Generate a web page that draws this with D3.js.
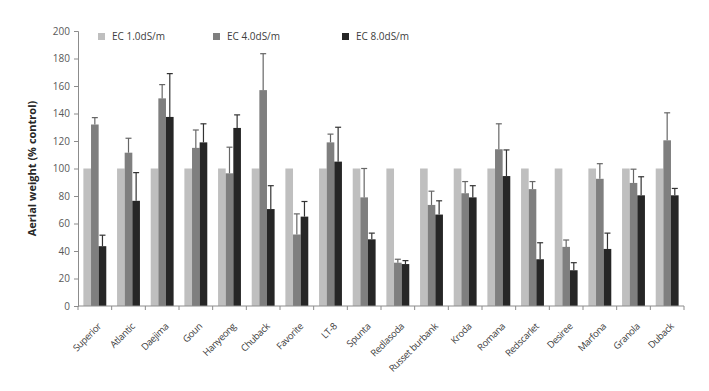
<!DOCTYPE html>
<html><head><meta charset="utf-8">
<script src="https://cdn.jsdelivr.net/npm/d3@7"></script>
<style>body{margin:0;background:#fff}svg{display:block}text{font-family:"Open Sans","Noto Sans",sans-serif}</style>
</head><body><svg id="c" width="709" height="391"></svg>
<script>
const categories=["Superior","Atlantic","Daejima","Goun","Hanyeong","Chuback","Favorite","LT-8","Spunta","Redlasoda","Russet burbank","Kroda","Romana","Redscarlet","Desiree","Marfona","Granola","Duback"];
const seriesNames=["EC 1.0dS/m","EC 4.0dS/m","EC 8.0dS/m"];
const ec1=[100,100,100,100,100,100,100,100,100,100,100,100,100,100,100,100,100,100];
const ec4=[132,111.5,151,115,96.5,157,52,119,79,31.5,73.5,82,114,85,43,92.5,89.5,120.5];
const ec4Err=[5,10.5,10,13,19,26.5,15,6,21,2.5,10,8.5,18.5,5.5,5,11,10,20];
const ec8=[43.5,76.5,137.5,119,129.5,70.5,65,105,48.5,30.5,66.5,79,94.5,34,26,41.5,80.5,80.5];
const ec8Err=[8,20.5,31.5,13.5,9.5,17,11,25,4.5,2.5,10,8.5,19,12,5.5,11.5,13.5,5];
const yTicks=[0,20,40,60,80,100,120,140,160,180,200];

const svg=d3.select("#c");
const m={l:78,r:25,t:31,b:85};
const W=709,H=391;
const x=d3.scaleBand().domain(categories).range([m.l,W-m.r]).paddingInner(0).paddingOuter(0);
const y=d3.scaleLinear().domain([0,200]).range([H-m.b,m.t]);
const colors=["#bfbfbf","#7f7f7f","#262626"];
const sub=d3.scaleBand().domain([0,1,2]).range([0,x.bandwidth()*0.68]);
const off=x.bandwidth()*0.16;

const vals=[ec1,ec4,ec8];
const errs=[null,ec4Err,ec8Err];
const errCol=["#777","#666","#333"];

for(let s=0;s<3;s++){
  const g=svg.append("g");
  g.selectAll("rect").data(categories).join("rect")
    .attr("x",(d)=>x(d)+off+sub(s))
    .attr("width",sub.bandwidth())
    .attr("y",(d,i)=>y(vals[s][i]))
    .attr("height",(d,i)=>y(0)-y(vals[s][i]))
    .attr("fill",colors[s]);
  if(errs[s]){
    const eg=svg.append("g").attr("stroke",errCol[s]).attr("stroke-width",1.2);
    categories.forEach((d,i)=>{
      const cx=x(d)+off+sub(s)+sub.bandwidth()/2;
      const top=y(vals[s][i]+errs[s][i]);
      eg.append("line").attr("x1",cx).attr("x2",cx).attr("y1",y(vals[s][i])).attr("y2",top);
      eg.append("line").attr("x1",cx-3).attr("x2",cx+3).attr("y1",top).attr("y2",top);
    });
  }
}

// y axis
const ya=svg.append("g").attr("transform",`translate(${m.l},0)`)
  .call(d3.axisLeft(y).tickValues(yTicks).tickSize(4).tickPadding(4));
ya.select(".domain").attr("stroke","#8c8c8c");
ya.selectAll(".tick line").attr("stroke","#8c8c8c");
ya.selectAll(".tick text").attr("fill","#595959").style("font-size","10px");

// x axis
const xa=svg.append("g").attr("transform",`translate(0,${y(0)})`);
xa.append("line").attr("x1",m.l).attr("x2",W-m.r).attr("stroke","#8c8c8c");
const bounds=categories.map(d=>x(d)).concat([W-m.r]);
xa.selectAll("line.t").data(bounds).join("line").attr("class","t")
  .attr("x1",d=>d).attr("x2",d=>d).attr("y1",0).attr("y2",4).attr("stroke","#8c8c8c");
xa.selectAll("text").data(categories).join("text")
  .attr("transform",d=>`translate(${x(d)+x.bandwidth()/2+7},${21}) rotate(-45)`)
  .attr("text-anchor","end").attr("fill","#404040").style("font-size","9.5px")
  .style("letter-spacing","-0.35px")
  .text(d=>d);

// y label
svg.append("text").attr("transform",`translate(36,${y(100)}) rotate(-90)`)
  .attr("text-anchor","middle").attr("fill","#262626").style("font-size","11px").style("font-weight","bold")
  .text("Aerial weight (% control)");

// legend
const lx=[98,213,342];
seriesNames.forEach((n,i)=>{
  svg.append("rect").attr("x",lx[i]).attr("y",33).attr("width",7).attr("height",7).attr("fill",colors[i]);
  svg.append("text").attr("x",lx[i]+14).attr("y",40).attr("fill","#404040").style("font-size","10px").text(n);
});
</script></body></html>
